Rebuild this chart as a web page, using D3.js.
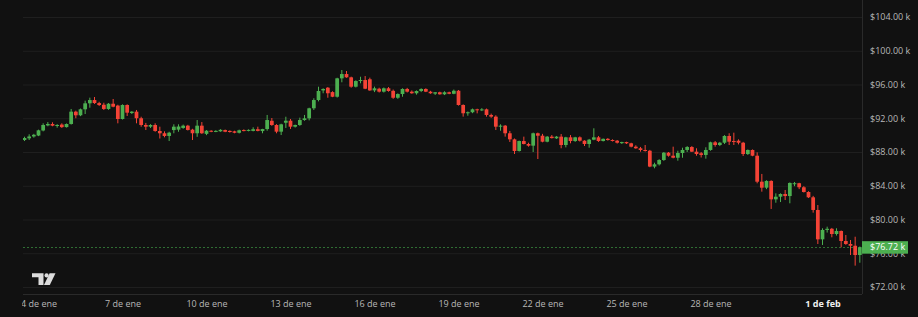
<!DOCTYPE html>
<html>
<head>
<meta charset="utf-8">
<script src="https://cdn.jsdelivr.net/npm/d3@7"></script>
<style>
html, body { margin: 0; padding: 0; background: #111111; }
svg { display: block; }
</style>
</head>
<body>
<div id="chart"></div>
<script>
// BTC 4h candles, prices in thousands of USD. First candle opens 3 Jan 12:00 UTC.
var firstCandle = "2026-01-03T12:00:00Z";

var opens = [89.42,89.62,89.84,89.95,90.55,91.15,91.32,91.10,91.25,90.95,
	91.32,92.78,92.35,93.06,93.77,94.16,93.80,93.60,93.10,93.72,
	93.50,91.91,93.57,92.62,92.78,92.00,91.20,91.00,91.20,90.49,
	90.22,89.90,90.60,90.65,90.85,91.12,90.65,90.22,91.12,90.15,
	90.52,90.40,90.45,90.60,90.50,90.45,90.28,90.60,90.50,90.50,
	90.70,90.48,90.72,91.70,91.20,90.41,91.47,91.71,91.00,91.20,
	91.79,91.99,93.18,94.16,95.30,95.62,95.10,94.55,96.73,97.24,
	96.85,95.74,96.41,96.53,96.62,95.30,95.50,95.15,95.55,95.25,
	94.43,94.87,95.47,95.15,94.96,95.23,95.47,95.15,94.92,95.08,
	94.84,95.08,94.90,95.26,93.57,92.59,92.71,93.06,92.98,93.06,
	92.39,92.19,91.00,91.12,90.22,89.50,88.12,89.30,88.95,88.75,
	90.22,89.93,89.22,89.82,89.62,89.82,88.83,89.74,89.30,89.74,
	89.34,88.95,89.46,89.74,89.30,89.56,89.42,89.34,89.05,89.18,
	89.03,88.63,88.44,88.24,88.15,86.27,86.54,87.05,87.92,87.56,
	87.32,87.88,88.24,88.59,88.04,87.85,87.65,88.24,89.15,88.83,
	89.10,89.90,89.30,89.34,89.10,87.76,88.24,87.56,84.48,83.77,
	84.57,82.39,82.70,83.02,82.78,84.20,84.30,83.82,83.26,82.63,
	81.13,77.65,78.76,78.90,78.28,78.64,77.45,77.10,76.89,75.79];

var highs = [89.81,90.10,90.15,90.65,91.40,91.55,91.52,91.30,91.40,91.38,
	93.10,92.90,93.15,94.08,94.44,94.52,93.95,93.84,93.80,94.28,
	93.60,93.65,93.65,92.85,92.98,92.18,91.45,91.30,91.40,91.00,
	90.45,90.40,91.28,91.28,91.25,91.22,90.75,91.79,91.55,90.60,
	90.58,90.58,90.70,90.66,90.56,90.52,90.65,90.68,90.68,90.93,
	91.00,90.75,92.39,92.03,91.30,91.35,92.18,91.91,91.25,92.07,
	92.39,93.25,94.37,95.74,95.55,95.70,95.20,96.80,97.72,97.60,
	96.93,96.50,96.92,97.00,96.81,95.75,95.62,95.65,95.70,95.40,
	94.95,95.55,95.60,95.30,95.30,95.55,95.55,95.25,95.10,95.15,
	95.20,95.15,95.40,95.35,93.65,92.80,93.15,93.13,93.20,93.15,
	92.55,92.35,91.28,91.20,90.50,89.60,89.35,89.82,89.10,90.30,
	90.30,90.15,89.90,90.01,89.90,90.13,89.80,90.01,89.80,89.85,
	89.40,89.55,90.81,89.90,89.60,89.65,89.50,89.42,89.22,89.22,
	89.10,88.80,88.60,88.83,88.25,86.73,87.15,88.00,88.00,88.63,
	88.15,88.51,88.70,88.70,88.44,88.00,88.56,89.22,89.30,89.20,
	90.00,90.22,90.29,89.50,89.20,88.30,88.30,87.96,85.40,84.65,
	84.65,83.10,83.10,83.50,84.40,84.45,84.35,83.95,83.35,82.80,
	81.72,78.96,79.15,79.00,78.96,78.70,78.16,77.57,77.96,76.80];

var lows = [89.30,89.42,89.70,89.88,90.45,91.05,91.05,90.88,90.85,90.90,
	91.25,92.00,92.25,92.50,93.25,93.70,93.45,92.98,93.00,93.30,
	91.40,91.85,92.27,92.50,91.40,91.00,90.61,90.85,90.40,89.60,
	89.74,89.30,90.22,90.40,90.75,90.55,89.42,89.80,90.15,90.00,
	90.35,90.35,90.40,90.35,90.30,90.22,90.20,90.45,90.45,90.45,
	90.45,90.22,90.52,91.10,90.22,90.01,90.85,90.73,90.90,91.10,
	91.70,91.75,92.98,94.00,94.96,94.43,94.50,94.45,96.26,96.80,
	95.62,95.65,96.14,95.45,95.25,95.10,95.05,95.05,95.15,94.30,
	94.30,94.55,95.05,94.90,94.80,95.10,95.10,94.90,94.76,94.80,
	94.75,94.85,94.85,93.50,92.19,92.30,92.60,92.58,92.85,92.19,
	92.05,90.61,90.52,89.82,89.19,87.76,88.05,88.90,88.63,88.00,
	87.17,89.15,89.15,89.60,89.55,88.44,88.55,89.03,89.20,89.24,
	88.71,88.51,89.40,89.20,89.25,89.35,89.25,89.00,88.95,88.95,
	88.55,88.38,88.04,88.05,86.20,86.07,86.40,86.95,87.45,87.25,
	86.97,87.32,88.00,88.00,87.56,87.35,87.21,88.15,88.63,88.70,
	88.95,88.83,88.83,88.90,87.53,87.65,87.50,84.29,83.30,83.60,
	81.25,81.99,82.07,82.31,81.92,83.95,83.60,83.20,82.55,80.81,
	77.10,76.98,78.45,77.89,78.10,76.70,77.00,75.79,74.53,74.88];

var closes = [89.66,89.84,90.04,90.57,91.20,91.32,91.12,91.20,90.95,91.32,
	92.78,92.35,93.06,93.77,94.16,93.80,93.57,93.10,93.72,93.37,
	91.91,93.57,92.66,92.78,92.00,91.20,91.00,91.20,90.49,90.22,
	89.90,90.29,91.00,91.02,91.12,90.61,90.22,91.12,90.22,90.52,
	90.40,90.50,90.63,90.40,90.37,90.28,90.57,90.50,90.62,90.70,
	90.50,90.72,91.79,91.20,90.41,91.28,91.71,91.00,91.20,91.79,
	91.99,93.18,94.16,95.23,95.47,94.96,94.55,96.73,97.24,96.85,
	95.74,96.41,96.53,95.50,95.30,95.55,95.15,95.55,95.23,94.43,
	94.87,95.47,95.15,94.96,95.23,95.47,95.15,94.96,95.08,94.84,
	95.08,94.90,95.26,93.57,92.59,92.71,93.06,92.98,93.05,92.39,
	92.19,91.00,91.12,90.22,89.50,88.12,89.30,88.95,88.75,90.22,
	89.93,89.22,89.82,89.65,89.82,88.83,89.74,89.30,89.74,89.34,
	88.95,89.46,89.74,89.30,89.56,89.42,89.34,89.10,89.18,89.03,
	88.63,88.44,88.24,88.15,86.27,86.54,87.05,87.92,87.56,87.32,
	87.88,88.24,88.59,88.04,87.76,87.65,88.24,89.15,88.83,89.10,
	89.90,89.22,89.18,89.10,87.76,88.24,87.56,84.48,83.77,84.57,
	82.39,82.70,83.02,82.78,84.33,84.30,83.82,83.26,82.63,81.13,
	77.65,78.76,78.90,78.28,78.64,77.45,77.10,76.89,75.79,76.72];

var lastPrice = 76.72;
var priceTicks = [72, 76, 80, 84, 88, 92, 96, 100, 104];
var dayTicks = ["2026-01-04", "2026-01-07", "2026-01-10", "2026-01-13", "2026-01-16",
	"2026-01-19", "2026-01-22", "2026-01-25", "2026-01-28", "2026-02-01"];
var dayLabels = ["4 de ene", "7 de ene", "10 de ene", "13 de ene", "16 de ene",
	"19 de ene", "22 de ene", "25 de ene", "28 de ene", "1 de feb"];

var width = 918, height = 317;
var pane = {left: 23, right: 862, top: 0, bottom: 294};
var up = "#4caf50", down = "#f44336";
var step = 4 * 3600 * 1000;
var font = "'Open Sans', 'Noto Sans', sans-serif";

var x = d3.scaleTime()
	.domain([new Date("2026-01-04T00:00:00Z"), new Date("2026-02-01T00:00:00Z")])
	.range([38.5, 822.5]);
var y = d3.scaleLinear().domain([72, 104]).range([287, 17]);

var t0 = +new Date(firstCandle);
var candles = opens.map(function(o, i) {
	return {t: new Date(t0 + i * step), o: o, h: highs[i], l: lows[i], c: closes[i]};
});
var bodyW = (x(new Date(t0 + step)) - x(new Date(t0))) * 0.8;

var svg = d3.select("#chart").append("svg")
	.attr("width", width)
	.attr("height", height)
	.style("background", "#111111");

var defs = svg.append("defs");
defs.append("clipPath").attr("id", "pane")
	.append("rect").attr("x", pane.left).attr("y", 0)
	.attr("width", pane.right - pane.left).attr("height", pane.bottom);
defs.append("clipPath").attr("id", "timeaxis")
	.append("rect").attr("x", 22).attr("y", pane.bottom)
	.attr("width", pane.right - 22).attr("height", height - pane.bottom);

// horizontal grid
var grid = svg.append("g")
	.attr("transform", "translate(" + pane.left + ",0)")
	.call(d3.axisRight(y).tickValues(priceTicks).tickSize(pane.right - pane.left).tickFormat(""));
grid.select(".domain").remove();
grid.selectAll("line").attr("stroke", "#1f1f1f");

// borders
svg.append("line").attr("x1", pane.right + 0.5).attr("x2", pane.right + 0.5)
	.attr("y1", 0).attr("y2", pane.bottom).attr("stroke", "#2a2a2a");
svg.append("line").attr("x1", pane.left).attr("x2", pane.right)
	.attr("y1", pane.bottom + 0.5).attr("y2", pane.bottom + 0.5).attr("stroke", "#2a2a2a");

// last price line
svg.append("line")
	.attr("x1", pane.left).attr("x2", pane.right)
	.attr("y1", Math.round(y(lastPrice)) + 0.5).attr("y2", Math.round(y(lastPrice)) + 0.5)
	.attr("stroke", "#2f6e33")
	.attr("stroke-dasharray", "2,2");

var plot = svg.append("g").attr("clip-path", "url(#pane)");

var candle = plot.selectAll(".candle")
	.data(candles)
	.enter()
	.append("g")
	.attr("class", "candle");

candle.append("line")
	.attr("x1", function(d) { return x(d.t); })
	.attr("x2", function(d) { return x(d.t); })
	.attr("y1", function(d) { return y(d.h); })
	.attr("y2", function(d) { return y(d.l); })
	.attr("stroke", function(d) { return d.c >= d.o ? up : down; })
	.attr("stroke-width", 1);

candle.append("rect")
	.attr("x", function(d) { return x(d.t) - bodyW / 2; })
	.attr("width", bodyW)
	.attr("y", function(d) { return y(Math.max(d.o, d.c)); })
	.attr("height", function(d) { return Math.max(1, Math.abs(y(d.o) - y(d.c))); })
	.attr("fill", function(d) { return d.c >= d.o ? up : down; });

// price axis
var yAxis = svg.append("g")
	.attr("transform", "translate(" + pane.right + ",0)")
	.call(d3.axisRight(y).tickValues(priceTicks).tickSize(0).tickPadding(8)
		.tickFormat(function(d) { return "$" + d.toFixed(2) + " k"; }));
yAxis.select(".domain").remove();
yAxis.selectAll("text")
	.attr("fill", "#b8b8b8")
	.style("font-family", font)
	.style("font-size", "9px");

// last price label
var ly = y(lastPrice);
svg.append("rect")
	.attr("x", pane.right).attr("y", ly - 6)
	.attr("width", 46).attr("height", 12.5)
	.attr("fill", up);
svg.append("text")
	.attr("x", pane.right + 8).attr("y", ly)
	.attr("dy", "0.32em")
	.attr("fill", "#ffffff")
	.style("font-family", font)
	.style("font-size", "9px")
	.text("$" + lastPrice.toFixed(2) + " k");

// time axis
var xAxis = svg.append("g")
	.attr("clip-path", "url(#timeaxis)")
	.append("g")
	.attr("transform", "translate(0," + pane.bottom + ")")
	.call(d3.axisBottom(x)
		.tickValues(dayTicks.map(function(d) { return new Date(d + "T00:00:00Z"); }))
		.tickSize(0).tickPadding(7)
		.tickFormat(function(d, i) { return dayLabels[i]; }));
xAxis.select(".domain").remove();
xAxis.selectAll("text")
	.attr("fill", "#b8b8b8")
	.style("font-family", font)
	.style("font-size", "9px");
xAxis.selectAll(".tick").filter(function(d, i) { return i === dayLabels.length - 1; })
	.select("text")
	.attr("fill", "#f0f0f0")
	.style("font-weight", "bold");

// TradingView mark
var logo = svg.append("g").attr("fill", "#dcdcdc");
logo.append("path").attr("d", "M32,273.3H43.5V285H38.5V277.3H32Z");
logo.append("circle").attr("cx", 46.6).attr("cy", 275.4).attr("r", 2.1);
logo.append("path").attr("d", "M49.6,273.3H55.5L49.8,285H44Z");
</script>
</body>
</html>
